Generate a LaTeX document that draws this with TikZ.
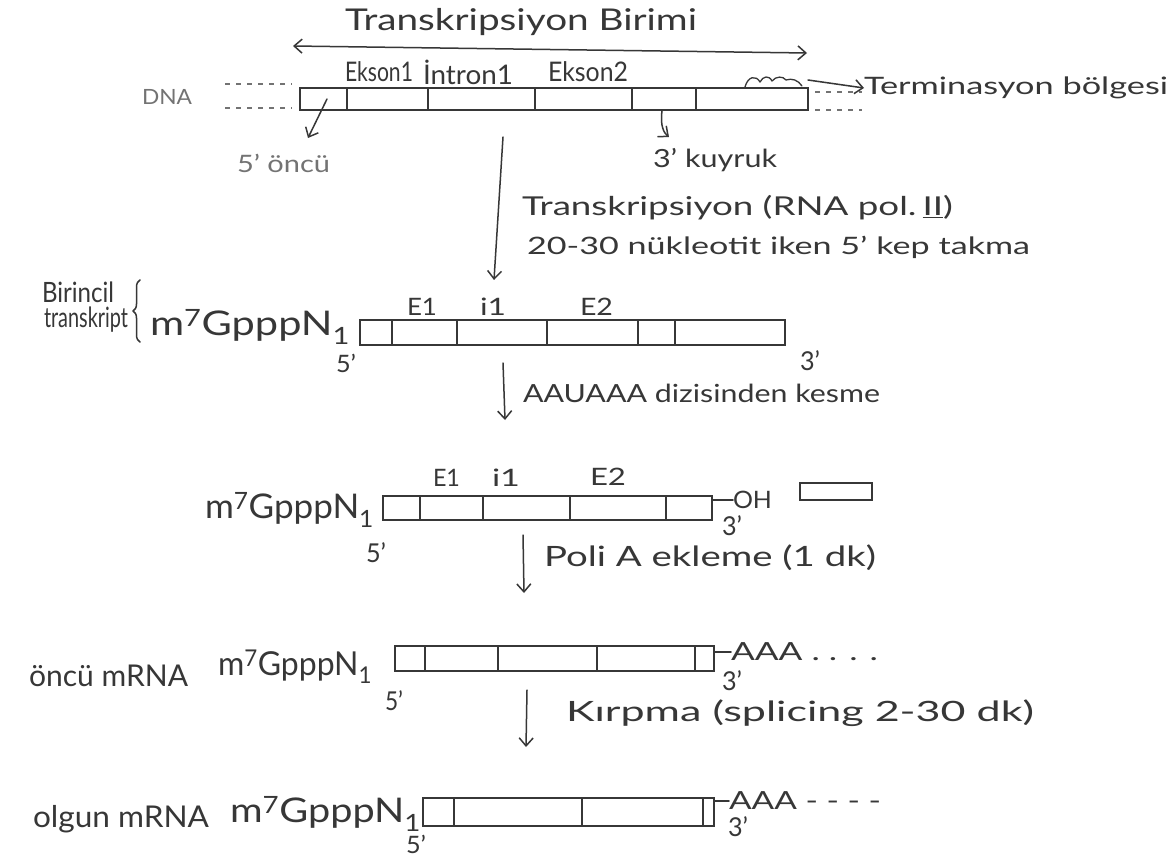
\documentclass[tikz,border=0pt]{standalone}
\usepackage{graphicx}
\usepackage{fontspec}
\setmainfont{Lato}
\usetikzlibrary{arrows.meta,decorations.pathreplacing}
\definecolor{inkc}{RGB}{55,55,55}
\definecolor{pale}{RGB}{115,115,115}
% stretch a text to a given width, keeping its height
\newcommand{\fitw}[2]{\resizebox{#1pt}{\height}{#2}}
\newcommand{\mcap}{m\textsuperscript{7}GpppN\textsubscript{1}}
% #1 name, #2 x, #3 y, #4 width, #5 font size, #6 text
\newcommand{\putlabel}[6]{\node[lbl,font=\fontsize{#5}{#5}\selectfont] (#1) at (#2,#3) {\fitw{#4}{#6}};}
% #1 name, #2 left, #3 right, #4 top, #5 bottom, #6 dividers
\newcommand{\rnabar}[6]{%
  \node[bar,minimum width={#3-#2},minimum height={#5-#4},anchor=north west] (#1) at (#2,#4) {};
  \foreach \d in {#6} \draw[ink] (\d,#4) -- (\d,#5);}
\begin{document}
\begin{tikzpicture}[x=1pt,y=-1pt,
  ink/.style={draw=inkc,line width=1.5pt,line cap=round,line join=round},
  bar/.style={draw=inkc,line width=1.5pt,inner sep=0pt,outer sep=0pt,rectangle},
  lbl/.style={inner sep=0pt,outer sep=0pt,text=inkc,anchor=west},
  tip/.style={-{Straight Barb[length=8pt,width=14pt]}},
  dots/.style={draw=pale,line width=1.4pt,dash pattern=on 5pt off 6pt}]
\fill[white] (0,0) rectangle (1176,861);
\useasboundingbox (0,0) rectangle (1176,861);

% ---- DNA: the transcription unit ----
\putlabel{title}{345}{22}{352}{30}{Transkripsiyon Birimi}
\coordinate (unitL) at (293,46);
\coordinate (unitR) at (807,53);
\draw[ink,{Straight Barb[length=8pt,width=14pt]}-{Straight Barb[length=8pt,width=14pt]}] (unitL) -- (unitR);
\putlabel{ex1}{345}{72}{68}{27}{Ekson1}
\putlabel{in1}{423}{72}{90}{27}{İntron1}
\putlabel{ex2}{548}{72}{80}{27}{Ekson2}
\node[lbl,text=pale,font=\fontsize{21}{21}\selectfont] (dnal) at (142,97) {\fitw{50}{DNA}};
\rnabar{dna}{300}{808}{88}{110}{347,428,535,632,696}
\coordinate (dl1a) at (225,84); \coordinate (dl1b) at (292,84);
\coordinate (dl2a) at (225,108); \coordinate (dl2b) at (292,108);
\draw[dots] (dl1a) -- (dl1b);
\draw[dots] (dl2a) -- (dl2b);
\coordinate (dr1a) at (815,92); \coordinate (dr1b) at (862,92);
\coordinate (dr2a) at (815,110); \coordinate (dr2b) at (862,110);
\draw[dots] (dr1a) -- (dr1b);
\draw[dots] (dr2a) -- (dr2b);
% termination region
\draw[ink,line width=1.3pt] (745,87) .. controls (748,76) and (756,75) .. (760,82)
  .. controls (763,76) and (769,75) .. (772,81)
  .. controls (776,76) and (783,76) .. (786,80)
  .. controls (792,78) and (798,80) .. (802,86);
\coordinate (termA) at (808,80);
\putlabel{term}{864}{88}{304}{24}{Terminasyon bölgesi}
\draw[ink,tip] (termA) -- (term.west);
% 5' leader and 3' tail
\coordinate (oncA) at (327,99);
\coordinate (oncB) at (308,138);
\draw[ink,tip] (oncA) -- (oncB);
\node[lbl,text=pale,font=\fontsize{24}{24}\selectfont] (onc) at (237,163) {\fitw{93}{5' öncü}};
\coordinate (kuyA) at (662,111);
\coordinate (kuyB) at (669,137);
\draw[ink,tip] (kuyA) .. controls (660,126) and (664,133) .. (kuyB);
\putlabel{kuy}{653}{160}{124}{25}{3' kuyruk}

% ---- transcription ----
\coordinate (trA) at (503,137);
\coordinate (trB) at (494,280);
\draw[ink,tip] (trA) -- (trB);
\putlabel{trs}{522}{208}{431}{26}{Transkripsiyon (RNA pol.\,\underline{II})}
\putlabel{kep}{527}{247}{503}{24}{20-30 nükleotit iken 5' kep takma}

% ---- primary transcript ----
\putlabel{bir}{42}{292}{72}{28}{Birincil}
\putlabel{trk}{44}{320}{84}{28}{transkript}
\coordinate (brB) at (140,342);
\coordinate (brT) at (140,280);
\draw[ink,decorate,decoration={brace,amplitude=7pt}] (brB) -- (brT);
\putlabel{m2}{150}{327}{200}{34}{\mcap}
\putlabel{p5b}{336}{363}{20}{24}{5'}
\rnabar{pre}{360}{785}{320}{345}{392,457,547,638,675}
\putlabel{e1b}{407}{307}{30}{24}{E1}
\putlabel{i1b}{480}{307}{26}{24}{i1}
\putlabel{e2b}{580}{307}{33}{24}{E2}
\putlabel{p3b}{800}{361}{20}{26}{3'}

% ---- cleavage at AAUAAA ----
\coordinate (aaA) at (503,363);
\coordinate (aaB) at (505,420);
\draw[ink,tip] (aaA) -- (aaB);
\putlabel{aau}{523}{393}{357}{25}{AAUAAA dizisinden kesme}

\putlabel{m3}{205}{510}{169}{34}{\mcap}
\putlabel{p5c}{366}{553}{20}{26}{5'}
\rnabar{cut}{383}{712}{496}{520}{420,483,570,666}
\putlabel{e1c}{433}{478}{27}{24}{E1}
\putlabel{i1c}{492}{478}{28}{24}{i1}
\putlabel{e2c}{590}{477}{36}{24}{E2}
\putlabel{oh}{733}{500}{39}{24}{OH}
\draw[ink] (cut.east |- oh.west) -- (oh.west);
\putlabel{p3c}{722}{526}{20}{26}{3'}
\node[bar,minimum width=72,minimum height=17,anchor=north west] (frag) at (800,483) {};

% ---- poly A addition ----
\coordinate (plA) at (523,535);
\coordinate (plB) at (524,593);
\draw[ink,tip] (plA) -- (plB);
\putlabel{pol}{544}{558}{332}{28}{Poli A ekleme (1 dk)}

\putlabel{onm}{29}{676}{159}{30}{öncü mRNA}
\putlabel{m4}{218}{667}{154}{33}{\mcap}
\putlabel{p5d}{385}{701}{18}{26}{5'}
\rnabar{prem}{395}{714}{646}{671}{425,498,597,695}
\putlabel{aa4}{731}{652}{147}{25}{AAA . . . .}
\draw[ink] (prem.east |- aa4.west) -- (aa4.west);
\putlabel{p3d}{722}{681}{20}{26}{3'}

% ---- splicing ----
\coordinate (krA) at (527,690);
\coordinate (krB) at (526,747);
\draw[ink,tip] (krA) -- (krB);
\putlabel{krp}{566}{713}{468}{28}{Kırpma (splicing 2-30 dk)}

\putlabel{olg}{33}{819}{176}{30}{olgun mRNA}
\putlabel{m5}{230}{814}{191}{34}{\mcap}
\putlabel{p5e}{406}{844}{20}{24}{5'}
\rnabar{mat}{423}{714}{798}{826}{454,582,703}
\putlabel{aa5}{729}{801}{152}{25}{AAA - - - -}
\draw[ink] (mat.east |- aa5.west) -- (aa5.west);
\putlabel{p3e}{728}{827}{20}{26}{3'}
\end{tikzpicture}
\end{document}
